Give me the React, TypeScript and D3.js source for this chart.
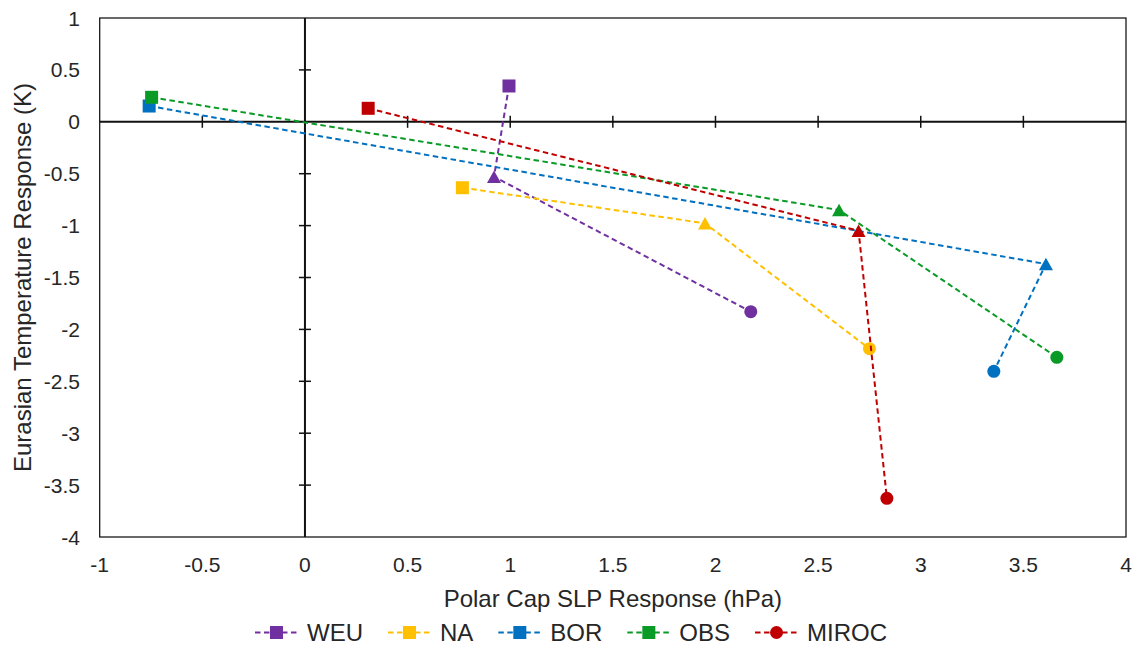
import React, { useEffect, useRef } from "react";
import * as d3 from "d3";

// Series labels, colours and legend marker shapes
const seriesNames = ["WEU", "NA", "BOR", "OBS", "MIROC"];
const seriesColors = ["#7030A0", "#FFC000", "#0070C0", "#0A9A26", "#C00000"];
const legendShapes = ["square", "square", "square", "square", "circle"];

// Each series has three points: square, triangle, circle (in that order)
const pointShapes = ["square", "triangle", "circle"];

// Polar cap SLP response (hPa)
const weuX = [0.994, 0.921, 2.172];
const naX = [0.767, 1.949, 2.75];
const borX = [-0.759, 3.61, 3.356];
const obsX = [-0.747, 2.602, 3.663];
const mirocX = [0.308, 2.697, 2.835];

// Eurasian temperature response (K)
const weuY = [0.345, -0.529, -1.829];
const naY = [-0.635, -0.978, -2.186];
const borY = [0.152, -1.37, -2.404];
const obsY = [0.236, -0.85, -2.269];
const mirocY = [0.13, -1.049, -3.627];

const xTicks = [-1, -0.5, 0, 0.5, 1, 1.5, 2, 2.5, 3, 3.5, 4];
const yTicks = [1, 0.5, 0, -0.5, -1, -1.5, -2, -2.5, -3, -3.5, -4];

const xTitle = "Polar Cap SLP Response (hPa)";
const yTitle = "Eurasian Temperature Response (K)";

const allX = [weuX, naX, borX, obsX, mirocX];
const allY = [weuY, naY, borY, obsY, mirocY];

const W = 1135;
const H = 645;
const FONT = "'Liberation Sans', Arial, sans-serif";
const TEXT = "#262626";

function drawMarker(
  g: d3.Selection<SVGGElement, unknown, null, undefined>,
  shape: string,
  cx: number,
  cy: number,
  color: string
) {
  if (shape === "square") {
    g.append("rect")
      .attr("x", cx - 6.5)
      .attr("y", cy - 6.5)
      .attr("width", 13)
      .attr("height", 13)
      .attr("fill", color);
  } else if (shape === "circle") {
    g.append("circle").attr("cx", cx).attr("cy", cy).attr("r", 6.5).attr("fill", color);
  } else {
    const h = 12.5;
    const w = 14;
    g.append("path")
      .attr(
        "d",
        `M${cx},${cy - h / 2}L${cx + w / 2},${cy + h / 2}L${cx - w / 2},${cy + h / 2}Z`
      )
      .attr("fill", color);
  }
}

export default function App() {
  const ref = useRef<SVGSVGElement | null>(null);

  useEffect(() => {
    const svg = d3.select(ref.current as SVGSVGElement);
    svg.selectAll("*").remove();

    const x = d3.scaleLinear().domain([-1, 4]).range([99.7, 1126]);
    const y = d3.scaleLinear().domain([1, -4]).range([18, 537]);

    const root = svg.append("g") as d3.Selection<SVGGElement, unknown, null, undefined>;

    // plot area frame
    root
      .append("rect")
      .attr("x", x(-1))
      .attr("y", y(1))
      .attr("width", x(4) - x(-1))
      .attr("height", y(-4) - y(1))
      .attr("fill", "none")
      .attr("stroke", "#1a1a1a")
      .attr("stroke-width", 1.3);

    // axes crossing at zero
    root
      .append("line")
      .attr("x1", x(-1))
      .attr("x2", x(4))
      .attr("y1", y(0))
      .attr("y2", y(0))
      .attr("stroke", "#111")
      .attr("stroke-width", 2);
    root
      .append("line")
      .attr("x1", x(0))
      .attr("x2", x(0))
      .attr("y1", y(1))
      .attr("y2", y(-4))
      .attr("stroke", "#111")
      .attr("stroke-width", 2);

    // cross tick marks on the zero axes
    xTicks.forEach((t) => {
      if (t === -1 || t === 4 || t === 0) return;
      root
        .append("line")
        .attr("x1", x(t))
        .attr("x2", x(t))
        .attr("y1", y(0) - 6)
        .attr("y2", y(0) + 6)
        .attr("stroke", "#111")
        .attr("stroke-width", 1.5);
    });
    yTicks.forEach((t) => {
      if (t === 1 || t === -4 || t === 0) return;
      root
        .append("line")
        .attr("x1", x(0) - 6)
        .attr("x2", x(0) + 6)
        .attr("y1", y(t))
        .attr("y2", y(t))
        .attr("stroke", "#111")
        .attr("stroke-width", 1.5);
    });

    // tick labels along plot edges
    const fmt = (v: number) => String(v);
    root
      .selectAll("text.xt")
      .data(xTicks)
      .join("text")
      .attr("class", "xt")
      .attr("x", (d) => x(d))
      .attr("y", 571.5)
      .attr("text-anchor", "middle")
      .attr("font-family", FONT)
      .attr("font-size", 21)
      .attr("fill", TEXT)
      .text(fmt);
    root
      .selectAll("text.yt")
      .data(yTicks)
      .join("text")
      .attr("class", "yt")
      .attr("x", 80)
      .attr("y", (d) => y(d) + 7.5)
      .attr("text-anchor", "end")
      .attr("font-family", FONT)
      .attr("font-size", 21)
      .attr("fill", TEXT)
      .text(fmt);

    // axis titles
    root
      .append("text")
      .attr("x", (x(-1) + x(4)) / 2)
      .attr("y", 606.5)
      .attr("text-anchor", "middle")
      .attr("font-family", FONT)
      .attr("font-size", 24)
      .attr("fill", TEXT)
      .text(xTitle);
    root
      .append("text")
      .attr("transform", `translate(31,${(y(1) + y(-4)) / 2}) rotate(-90)`)
      .attr("text-anchor", "middle")
      .attr("font-family", FONT)
      .attr("font-size", 24)
      .attr("fill", TEXT)
      .text(yTitle);

    // series lines and markers
    const line = d3
      .line<[number, number]>()
      .x((d) => x(d[0]))
      .y((d) => y(d[1]));

    seriesNames.forEach((name, i) => {
      const pts: [number, number][] = allX[i].map((v, j) => [v, allY[i][j]]);
      const g = root.append("g") as d3.Selection<SVGGElement, unknown, null, undefined>;
      g.append("path")
        .attr("d", line(pts) as string)
        .attr("fill", "none")
        .attr("stroke", seriesColors[i])
        .attr("stroke-width", 2)
        .attr("stroke-dasharray", "5.5 3.5");
      pts.forEach((p, j) => drawMarker(g, pointShapes[j], x(p[0]), y(p[1]), seriesColors[i]));
    });

    // legend, centred under the chart
    const legend = root.append("g") as d3.Selection<SVGGElement, unknown, null, undefined>;
    const symW = 45;
    const gapText = 8;
    const gapItem = 24;
    const items: { g: d3.Selection<SVGGElement, unknown, null, undefined>; w: number }[] = [];
    seriesNames.forEach((name, i) => {
      const ig = legend.append("g") as d3.Selection<SVGGElement, unknown, null, undefined>;
      ig.append("line")
        .attr("x1", 0)
        .attr("x2", symW)
        .attr("y1", 0)
        .attr("y2", 0)
        .attr("stroke", seriesColors[i])
        .attr("stroke-width", 2)
        .attr("stroke-dasharray", "5.5 3.5")
        .attr("stroke-dashoffset", -1);
      drawMarker(ig, legendShapes[i], symW / 2, 0, seriesColors[i]);
      const t = ig
        .append("text")
        .attr("x", symW + gapText)
        .attr("y", 8.5)
        .attr("font-family", FONT)
        .attr("font-size", 24)
        .attr("fill", TEXT)
        .text(name);
      const tw = (t.node() as SVGTextElement).getComputedTextLength();
      items.push({ g: ig, w: symW + gapText + tw });
    });
    const total = items.reduce((s, it) => s + it.w, 0) + gapItem * (items.length - 1);
    let cx = 570.5 - total / 2;
    items.forEach((it) => {
      it.g.attr("transform", `translate(${cx},${632.5})`);
      cx += it.w + gapItem;
    });
  }, []);

  return (
    <svg
      ref={ref}
      width={W}
      height={H}
      viewBox={`0 0 ${W} ${H}`}
      style={{ position: "absolute", left: 0, top: 0, background: "#fff" }}
    />
  );
}
